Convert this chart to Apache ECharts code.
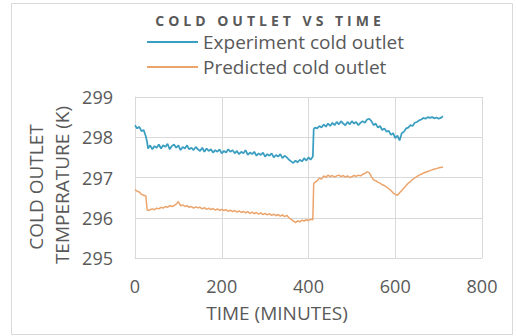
<!DOCTYPE html>
<html>
<head>
<meta charset="utf-8">
<script src="https://cdn.jsdelivr.net/npm/echarts@6/dist/echarts.min.js"></script>
<style>
html,body{margin:0;padding:0;background:#fff;}
#chart{width:516px;height:336px;}
</style>
</head>
<body>
<div id="chart"></div>
<script>
var titleText = 'COLD OUTLET VS TIME';
var seriesNames = ['Experiment cold outlet', 'Predicted cold outlet'];
var xAxisTitle = 'TIME (MINUTES)';
var yAxisTitleLines = ['COLD OUTLET', 'TEMPERATURE (K)'];
var xTicks = [0, 200, 400, 600, 800];
var yTicks = [295, 296, 297, 298, 299];

// [time (minutes), temperature (K)]
var experimentData = [
[0,298.30],[5,298.22],[10,298.26],[15,298.15],[20,298.18],[25,298.02],[28,297.88],[30,297.72],[35,297.80],[40,297.70],
[45,297.78],[50,297.74],[55,297.82],[60,297.72],[65,297.80],[70,297.76],[75,297.84],[80,297.70],[85,297.78],[90,297.82],
[95,297.74],[100,297.80],[105,297.68],[110,297.76],[115,297.72],[120,297.80],[125,297.70],[130,297.74],[135,297.68],[140,297.76],
[145,297.70],[150,297.66],[155,297.74],[160,297.64],[165,297.72],[170,297.66],[175,297.70],[180,297.62],[185,297.68],[190,297.64],
[195,297.70],[200,297.60],[205,297.66],[210,297.62],[215,297.70],[220,297.64],[225,297.68],[230,297.60],[235,297.66],[240,297.58],
[245,297.64],[250,297.60],[255,297.68],[260,297.56],[265,297.62],[270,297.58],[275,297.64],[280,297.54],[285,297.60],[290,297.56],
[295,297.62],[300,297.52],[305,297.58],[310,297.54],[315,297.60],[320,297.50],[325,297.56],[330,297.52],[335,297.58],[340,297.48],
[345,297.54],[350,297.50],[355,297.44],[360,297.40],[365,297.36],[370,297.42],[375,297.38],[380,297.44],[385,297.40],[390,297.48],
[395,297.42],[400,297.50],[405,297.44],[410,297.52],[412,298.20],[415,298.24],[420,298.22],[425,298.28],[430,298.24],[435,298.32],
[440,298.26],[445,298.34],[450,298.28],[455,298.36],[460,298.30],[465,298.38],[470,298.32],[475,298.40],[480,298.34],[485,298.30],
[490,298.38],[495,298.32],[500,298.40],[505,298.34],[510,298.38],[515,298.30],[520,298.36],[525,298.40],[530,298.36],[535,298.44],
[540,298.46],[545,298.40],[550,298.30],[555,298.34],[560,298.24],[565,298.28],[570,298.18],[575,298.22],[580,298.14],[585,298.16],
[590,298.06],[595,298.10],[600,297.98],[605,298.04],[610,297.92],[615,298.10],[620,298.14],[625,298.22],[630,298.24],[635,298.30],
[640,298.28],[645,298.36],[650,298.38],[655,298.42],[660,298.44],[665,298.48],[670,298.46],[675,298.50],[680,298.48],[685,298.50],
[690,298.47],[695,298.49],[700,298.46],[705,298.48],[710,298.52]
];

var predictedData = [
[0,296.70],[5,296.66],[10,296.64],[15,296.58],[20,296.56],[25,296.54],[28,296.20],[30,296.18],[35,296.20],[40,296.22],
[45,296.20],[50,296.24],[55,296.22],[60,296.26],[65,296.24],[70,296.28],[75,296.26],[80,296.30],[85,296.28],[90,296.30],
[95,296.34],[100,296.40],[105,296.30],[110,296.32],[115,296.28],[120,296.30],[125,296.26],[130,296.28],[135,296.24],[140,296.27],
[145,296.25],[150,296.26],[155,296.22],[160,296.25],[165,296.21],[170,296.24],[175,296.20],[180,296.23],[185,296.19],[190,296.22],
[195,296.18],[200,296.21],[205,296.18],[210,296.20],[215,296.16],[220,296.19],[225,296.15],[230,296.18],[235,296.14],[240,296.17],
[245,296.13],[250,296.16],[255,296.12],[260,296.15],[265,296.11],[270,296.14],[275,296.10],[280,296.13],[285,296.09],[290,296.12],
[295,296.08],[300,296.11],[305,296.07],[310,296.10],[315,296.06],[320,296.09],[325,296.05],[330,296.08],[335,296.04],[340,296.07],
[345,296.03],[350,296.06],[355,296.00],[360,295.96],[365,295.92],[370,295.88],[375,295.92],[380,295.90],[385,295.94],[390,295.92],
[395,295.95],[400,295.93],[405,295.96],[410,295.95],[412,296.85],[415,296.88],[420,296.92],[425,296.98],[430,296.96],[435,297.04],
[440,297.00],[445,297.06],[450,297.02],[455,297.05],[460,297.01],[465,297.04],[470,297.06],[475,297.02],[480,297.05],[485,297.01],
[490,297.04],[495,297.00],[500,297.02],[505,297.05],[510,297.03],[515,297.06],[520,297.04],[525,297.08],[530,297.10],[535,297.14],
[540,297.12],[545,297.02],[550,296.94],[555,296.92],[560,296.88],[565,296.86],[570,296.82],[575,296.80],[580,296.76],[585,296.72],
[590,296.68],[595,296.62],[600,296.58],[605,296.56],[610,296.62],[615,296.68],[620,296.74],[625,296.80],[630,296.86],[635,296.90],
[640,296.95],[645,296.99],[650,297.02],[655,297.06],[660,297.08],[665,297.11],[670,297.13],[675,297.15],[680,297.17],[685,297.19],
[690,297.21],[695,297.22],[700,297.24],[705,297.25],[710,297.26]
];

var FONT = '"Open Sans", sans-serif';
var TEXT = '#595959';
var GRID = '#d9d9d9';
var BLUE = '#3A9EC0';
var ORANGE = '#EBA46B';

var chart = echarts.init(document.getElementById('chart'), null, {renderer: 'svg'});
var option = {
  animation: false,
  backgroundColor: '#ffffff',
  grid: {left: 135, right: 34, top: 97, bottom: 78, containLabel: false},
  legend: {
    orient: 'vertical',
    left: 147, top: 31, padding: 0,
    itemWidth: 51, itemHeight: 2, itemGap: 3,
    icon: 'rect',
    textStyle: {fontFamily: FONT, fontSize: 19, color: TEXT, lineHeight: 22},
    data: seriesNames
  },
  xAxis: {
    type: 'value', min: xTicks[0], max: xTicks[xTicks.length - 1], interval: 200,
    axisLine: {show: true, lineStyle: {color: GRID}},
    axisTick: {show: false},
    axisLabel: {fontFamily: FONT, fontSize: 18, color: TEXT, margin: 19},
    splitLine: {show: true, lineStyle: {color: GRID}}
  },
  yAxis: {
    type: 'value', min: yTicks[0], max: yTicks[yTicks.length - 1], interval: 1,
    axisLine: {show: true, lineStyle: {color: GRID}},
    axisTick: {show: false},
    axisLabel: {fontFamily: FONT, fontSize: 18, color: TEXT, margin: 22},
    splitLine: {show: true, lineStyle: {color: GRID}}
  },
  series: [
    {name: seriesNames[0], type: 'line', data: experimentData, showSymbol: false, symbol: 'none',
     lineStyle: {color: BLUE, width: 1.75}, itemStyle: {color: BLUE}},
    {name: seriesNames[1], type: 'line', data: predictedData, showSymbol: false, symbol: 'none',
     lineStyle: {color: ORANGE, width: 1.5}, itemStyle: {color: ORANGE}}
  ],
  graphic: [
    {type: 'rect', shape: {x: 11.5, y: 3.5, width: 501, height: 331}, style: {fill: 'none', stroke: '#d9d9d9', lineWidth: 1}, silent: true, z: -10},
    {type: 'text', x: 270, y: 20, style: {text: titleText, fontFamily: FONT, fontSize: 14, fontWeight: 'bold', fill: TEXT, align: 'center', verticalAlign: 'middle'}},
    {type: 'text', x: 277, y: 313, style: {text: xAxisTitle, fontFamily: FONT, fontSize: 19, fill: TEXT, align: 'center', verticalAlign: 'middle'}},
    {type: 'text', x: 36, y: 187, rotation: Math.PI / 2, style: {text: yAxisTitleLines[0], fontFamily: FONT, fontSize: 19, fill: TEXT, align: 'center', verticalAlign: 'middle'}},
    {type: 'text', x: 62, y: 185, rotation: Math.PI / 2, style: {text: yAxisTitleLines[1], fontFamily: FONT, fontSize: 19, fill: TEXT, align: 'center', verticalAlign: 'middle'}}
  ]
};
chart.setOption(option);
function spaceTitle() {
  document.querySelectorAll('#chart text').forEach(function (t) {
    if (t.textContent === titleText) t.setAttribute('letter-spacing', '4');
  });
}
spaceTitle();
chart.on('finished', spaceTitle);
</script>
</body>
</html>
